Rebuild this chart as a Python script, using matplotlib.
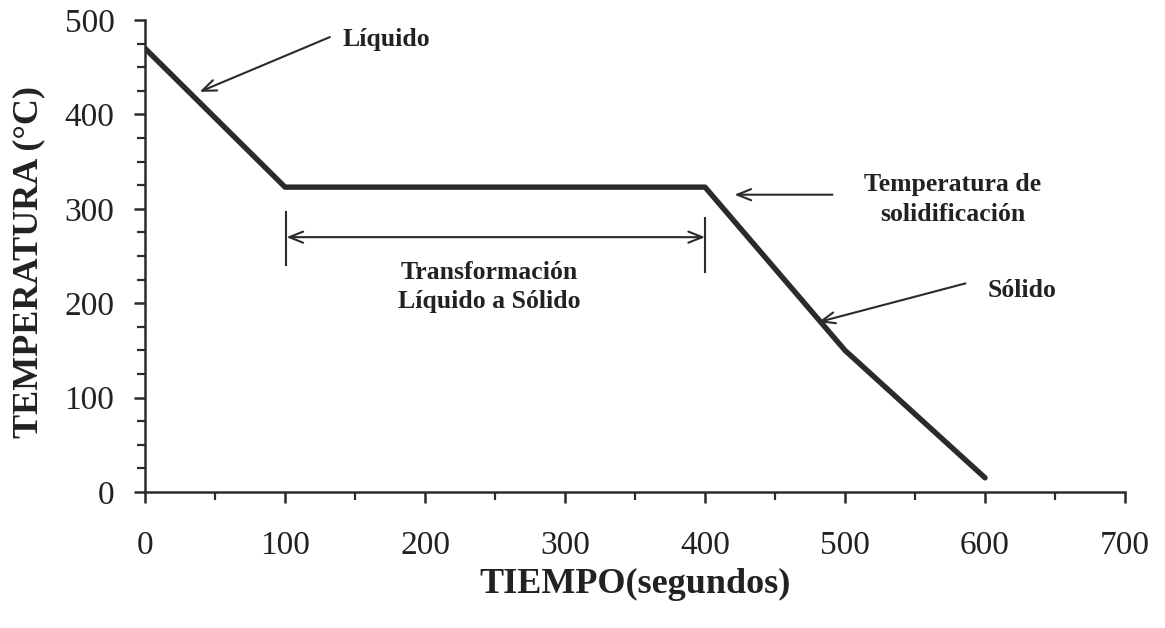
import matplotlib
matplotlib.use("Agg")
import matplotlib.pyplot as plt
from matplotlib.ticker import MultipleLocator

tiempo = [0, 100, 400, 500, 600]
temperatura = [470, 323, 323, 150, 15]

x_ticks = [0, 100, 200, 300, 400, 500, 600, 700]
y_ticks = [0, 100, 200, 300, 400, 500]

plt.rcParams['font.family'] = ['Liberation Serif', 'DejaVu Serif']
ink = '#2b2b2b'
txt = '#222222'

fig = plt.figure(figsize=(11.65, 6.28), dpi=100)
ax = fig.add_axes([0.1245, 0.2166, 0.8412, 0.7514])

ax.plot(tiempo, temperatura, color=ink, lw=3.9, solid_capstyle='round', solid_joinstyle='round')

ax.set_xlim(0, 700)
ax.set_ylim(0, 500)
ax.set_xticks(x_ticks)
ax.set_yticks(y_ticks)
ax.xaxis.set_minor_locator(MultipleLocator(50))
ax.yaxis.set_minor_locator(MultipleLocator(25))
for s in ['top', 'right']:
    ax.spines[s].set_visible(False)
for s in ['left', 'bottom']:
    ax.spines[s].set_linewidth(1.8)
    ax.spines[s].set_color(ink)
ax.tick_params(which='major', direction='out', length=8, width=1.8, color=ink,
               labelsize=24, labelcolor=txt)
ax.tick_params(axis='x', which='major', pad=20)
ax.tick_params(axis='y', which='major', pad=14)
ax.tick_params(which='minor', direction='out', length=6, width=1.6, color=ink)

ax.set_xlabel('TIEMPO(segundos)', fontsize=26, fontweight='bold', color=txt, va='top')
ax.xaxis.set_label_coords(0.5, -0.16)
ax.set_ylabel('TEMPERATURA (°C)', fontsize=26, fontweight='bold', color=txt)
ax.yaxis.set_label_coords(-0.102, 0.487)

arrow = dict(arrowstyle='->,head_length=1.0,head_width=0.4', color=ink, lw=1.5,
             shrinkA=0, shrinkB=0)
fs = 18.5

# Líquido
ax.annotate('', xy=(39, 424), xytext=(132, 482), arrowprops=arrow)
ax.text(141, 479, 'Líquido', fontsize=fs, fontweight='bold', color=txt, ha='left', va='center')

# Temperatura de solidificación
ax.annotate('', xy=(421, 315), xytext=(491, 315), arrowprops=arrow)
ax.text(577, 310, 'Temperatura de\nsolidificación', fontsize=fs, fontweight='bold',
        color=txt, ha='center', va='center', linespacing=1.4)

# Sólido
ax.annotate('', xy=(481, 180), xytext=(586, 221), arrowprops=arrow)
ax.text(602, 214, 'Sólido', fontsize=fs, fontweight='bold', color=txt, ha='left', va='center')

# dimension line
ax.plot([101, 101], [240, 297], color=ink, lw=1.5)
ax.plot([400, 400], [233, 290], color=ink, lw=1.5)
ax.annotate('', xy=(101, 270), xytext=(400, 270),
            arrowprops=dict(arrowstyle='<->,head_length=1.0,head_width=0.4', color=ink, lw=1.5,
                            shrinkA=0, shrinkB=0))
ax.text(246, 217, 'Transformación\nLíquido a Sólido', fontsize=fs, fontweight='bold',
        color=txt, ha='center', va='center', linespacing=1.3)

fig.savefig('out.png', dpi=100)
